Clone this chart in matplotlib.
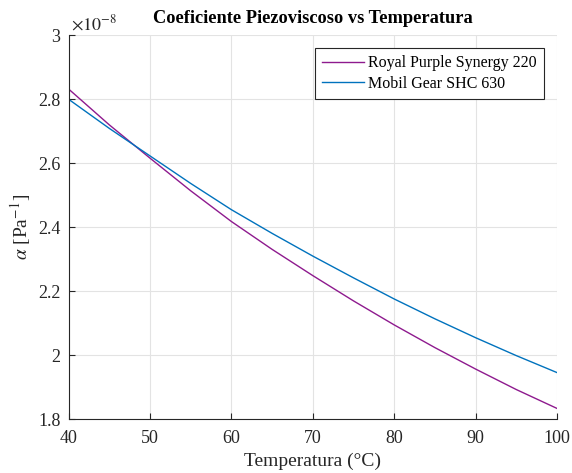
import numpy as np
import matplotlib
matplotlib.use('Agg')
import matplotlib.pyplot as plt
from matplotlib.ticker import FuncFormatter

# Temperature (deg C) and pressure-viscosity coefficient (x 1e-8 1/Pa)
temperatura = [40, 45, 50, 55, 60, 65, 70, 75, 80, 85, 90, 95, 100]
alpha_royal = [2.832, 2.720, 2.616, 2.514, 2.418, 2.331, 2.249, 2.170, 2.095, 2.024, 1.957, 1.893, 1.834]
alpha_mobil = [2.800, 2.709, 2.623, 2.537, 2.455, 2.381, 2.310, 2.242, 2.176, 2.114, 2.055, 1.999, 1.946]
etiquetas = ['Royal Purple Synergy 220', 'Mobil Gear SHC 630']

plt.rcParams['font.family'] = ['Liberation Serif', 'DejaVu Serif']
plt.rcParams['mathtext.fontset'] = 'stix'

fig = plt.figure(figsize=(5.72, 4.73), dpi=100)
ax = fig.add_axes([0.12, 0.1135, 0.8538, 0.8119])

ax.plot(temperatura, np.array(alpha_royal) * 1e-8, color='#8E1A8E', lw=1.0, label=etiquetas[0])
ax.plot(temperatura, np.array(alpha_mobil) * 1e-8, color='#0072BD', lw=1.0, label=etiquetas[1])

ax.set_xlim(40, 100)
ax.set_ylim(1.8e-8, 3.0e-8)
ax.set_xticks(np.arange(40, 101, 10))
ax.set_yticks(np.arange(1.8, 3.01, 0.2) * 1e-8)

# MATLAB-like tick labels (%g) with the exponent written above the axis
ax.yaxis.set_major_formatter(FuncFormatter(lambda v, p: '%g' % round(v / 1e-8, 4)))
ax.text(0.004, 1.004, r'$\times10^{-8}$', transform=ax.transAxes, fontsize=13,
        color='#262626', ha='left', va='bottom')

ax.grid(True, color='#e3e3e3', lw=0.8)
ax.set_axisbelow(True)
for s in ['top', 'right']:
    ax.spines[s].set_visible(False)
for s in ['left', 'bottom']:
    ax.spines[s].set_color('#262626')
    ax.spines[s].set_linewidth(0.8)
ax.tick_params(direction='in', length=4, labelsize=13, colors='#262626', width=0.8)
ax.tick_params(axis='y', pad=6)
ax.tick_params(axis='x', pad=8)

ax.set_xlabel('Temperatura (°C)', fontsize=14, color='#262626')
ax.set_ylabel(r'$\alpha$ [Pa$^{-1}$]', fontsize=14, color='#262626')
ax.xaxis.set_label_coords(0.5, -0.088)
ax.yaxis.set_label_coords(-0.073, 0.5)
ax.set_title('Coeficiente Piezoviscoso vs Temperatura', fontsize=13.2, fontweight='bold', pad=9)

leg = ax.legend(loc='upper right', fontsize=11.5, fancybox=False, framealpha=1,
                edgecolor='#262626', borderaxespad=0.8, handlelength=2.6,
                borderpad=0.45, labelspacing=0.3, handletextpad=0.3)
leg.get_frame().set_linewidth(0.8)

fig.savefig('out.png', dpi=100)
